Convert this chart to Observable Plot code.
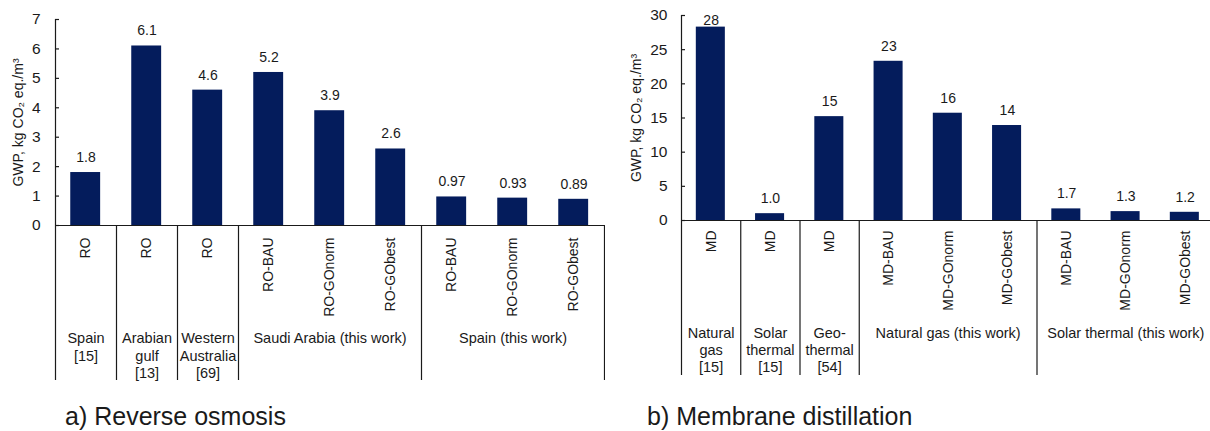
<!DOCTYPE html>
<html>
<head>
<meta charset="utf-8">
<script src="https://cdn.jsdelivr.net/npm/d3@7"></script>
<script src="https://cdn.jsdelivr.net/npm/@observablehq/plot@0.6"></script>
<style>
  html, body { margin: 0; padding: 0; background: white; overflow: hidden; }
  #wrap { position: relative; width: 1210px; height: 431px; font-family: "Liberation Sans", Arial, sans-serif; color: #1a1a1a; }
  #panelA { position: absolute; left: 0; top: 0; }
  #panelB { position: absolute; left: 605px; top: 0; }
  .cap { position: absolute; top: 404px; font-size: 25px; line-height: 25px; white-space: nowrap; }
</style>
</head>
<body>
<div id="wrap">
  <div id="panelA"></div>
  <div id="panelB"></div>
  <div class="cap" id="capA" style="left:65px"></div>
  <div class="cap" id="capB" style="left:647px"></div>
</div>
<script>
// ---- Data: a) Reverse osmosis ----
const roCategories = ["RO", "RO", "RO", "RO-BAU", "RO-GOnorm", "RO-GObest", "RO-BAU", "RO-GOnorm", "RO-GObest"];
const roValues = [1.8, 6.1, 4.6, 5.2, 3.9, 2.6, 0.97, 0.93, 0.89];
const roLabels = ["1.8", "6.1", "4.6", "5.2", "3.9", "2.6", "0.97", "0.93", "0.89"];
const roGroupNames = ["Spain\n[15]", "Arabian\ngulf\n[13]", "Western\nAustralia\n[69]", "Saudi Arabia (this work)", "Spain (this work)"];
const roGroupSizes = [1, 1, 1, 3, 3];
const roTicks = [0, 1, 2, 3, 4, 5, 6, 7];

// ---- Data: b) Membrane distillation ----
const mdCategories = ["MD", "MD", "MD", "MD-BAU", "MD-GOnorm", "MD-GObest", "MD-BAU", "MD-GOnorm", "MD-GObest"];
const mdValues = [28.3, 1.0, 15.2, 23.3, 15.7, 13.9, 1.7, 1.3, 1.2];
const mdLabels = ["28", "1.0", "15", "23", "16", "14", "1.7", "1.3", "1.2"];
const mdGroupNames = ["Natural\ngas\n[15]", "Solar\nthermal\n[15]", "Geo-\nthermal\n[54]", "Natural gas (this work)", "Solar thermal (this work)"];
const mdGroupSizes = [1, 1, 1, 3, 3];
const mdTicks = [0, 5, 10, 15, 20, 25, 30];

const yTitle = "GWP, kg CO\u2082 eq./m\u00B3";
const captionA = "a) Reverse osmosis";
const captionB = "b) Membrane distillation";

const barColor = "#041c5c";
const lineColor = "#1a1a1a";
const font = "Liberation Sans, Arial, Helvetica, sans-serif";

function makePanel(cfg) {
  const {categories, values, labels, groupNames, groupSizes, ticks,
         width, height, left, band, topPx, zeroPx, bottomPx,
         tickPadding, titleDx, catDy, groupDy, groupLineHeight, labelCap} = cfg;
  const n = categories.length;
  const yMax = ticks[ticks.length - 1];
  const yBottom = -yMax * (bottomPx - zeroPx) / (zeroPx - topPx);
  const rows = categories.map((c, i) => ({i, cat: c, value: values[i], label: labels[i]}));
  // group boundaries
  const bounds = [0];
  groupSizes.forEach(s => bounds.push(bounds[bounds.length - 1] + s));
  const groups = groupNames.map((g, k) => ({name: g, mid: (bounds[k] + bounds[k + 1]) / 2}));
  const tickLen = 4 / band;
  const pxPerUnit = (zeroPx - topPx) / yMax;
  return Plot.plot({
    width, height,
    marginTop: topPx, marginBottom: height - bottomPx,
    marginLeft: left, marginRight: 0,
    style: {fontFamily: font, fontSize: "14px", color: "#1a1a1a", background: "white", overflow: "visible"},
    x: {type: "linear", domain: [0, n], range: [left, left + n * band], axis: null},
    y: {domain: [yBottom, yMax], axis: null},
    marks: [
      Plot.rectY(rows, {x1: d => d.i + 0.25, x2: d => d.i + 0.74, y1: 0, y2: "value", fill: barColor}),
      Plot.ruleY([0], {x1: 0, x2: n, stroke: lineColor, strokeWidth: 1.2}),
      Plot.ruleX([0], {y1: yBottom, y2: yMax, stroke: lineColor, strokeWidth: 1.2}),
      Plot.ruleX(bounds.slice(1), {y1: yBottom, y2: 0, stroke: lineColor, strokeWidth: 1.2}),
      Plot.ruleY(ticks, {x1: 0, x2: tickLen, stroke: lineColor, strokeWidth: 1.2}),
      Plot.axisY({ticks, tickSize: 0, tickPadding, fontSize: 15.5, label: null, tickFormat: d => String(d)}),
      Plot.text([yTitle], {x: 0, y: yMax / 2, dx: titleDx, rotate: -90, text: d => d, fontSize: 14, fill: "#1a1a1a"}),
      Plot.text(rows, {x: d => d.i + 0.5, y: d => Math.min(d.value, labelCap), dy: -15, text: "label", fontSize: 14, fill: "#1a1a1a"}),
      Plot.text(rows, {x: d => d.i + 0.5, y: 0, dy: catDy, rotate: -90, textAnchor: "end", text: "cat", fontSize: 14, fill: "#1a1a1a"}),
      Plot.text(groups, {x: "mid", y: 0, dy: groupDy, lineAnchor: "top", lineHeight: groupLineHeight, text: "name", fontSize: 14.5, fill: "#1a1a1a"})
    ]
  });
}

const panelA = makePanel({
  categories: roCategories, values: roValues, labels: roLabels,
  groupNames: roGroupNames, groupSizes: roGroupSizes, ticks: roTicks,
  width: 605, height: 395, left: 55, band: 61,
  topPx: 19, zeroPx: 225, bottomPx: 380,
  tickPadding: 15, titleDx: -36.5, catDy: 12, groupDy: 105, groupLineHeight: 1.22,
  labelCap: 7
});
const panelB = makePanel({
  categories: mdCategories, values: mdValues, labels: mdLabels,
  groupNames: mdGroupNames, groupSizes: mdGroupSizes, ticks: mdTicks,
  width: 605, height: 395, left: 76, band: 59.25,
  topPx: 15, zeroPx: 220, bottomPx: 375,
  tickPadding: 14, titleDx: -45, catDy: 10, groupDy: 106, groupLineHeight: 1.16,
  labelCap: 27
});
document.getElementById("panelA").appendChild(panelA);
document.getElementById("panelB").appendChild(panelB);
document.getElementById("capA").textContent = captionA;
document.getElementById("capB").textContent = captionB;
</script>
</body>
</html>
